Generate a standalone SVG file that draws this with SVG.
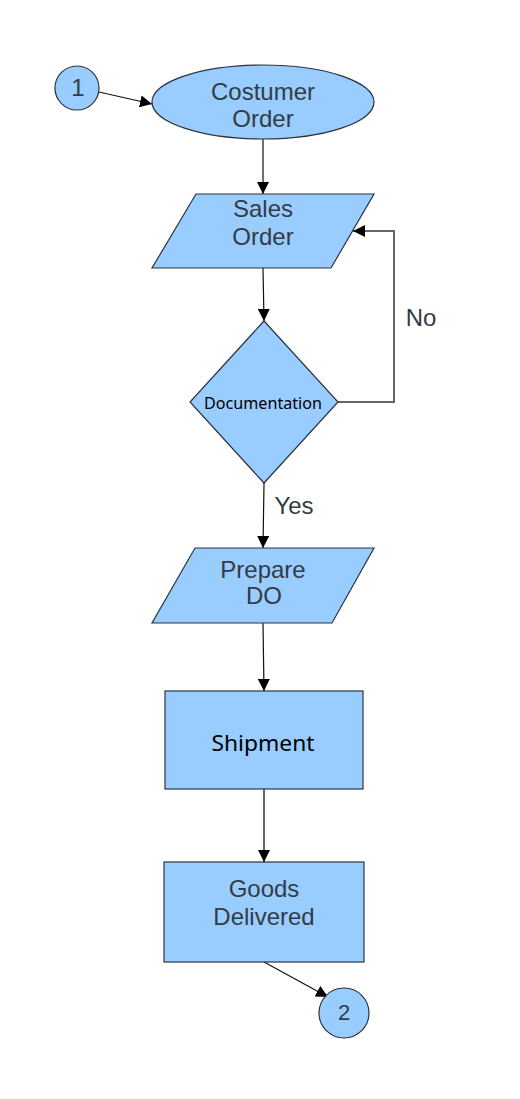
<svg xmlns="http://www.w3.org/2000/svg" width="520" height="1099" viewBox="0 0 520 1099">
<style>
.shape{fill:#99ccff;stroke:#2a3440;stroke-width:1.2}
.lbl{font-family:"Liberation Sans",Arial,sans-serif;font-size:24px;fill:#333b44;text-anchor:middle}
.cal{font-family:"Noto Sans","Open Sans",sans-serif;fill:#000;text-anchor:middle}
.con{fill:none;stroke:#111;stroke-width:1.2}
.gray{stroke:#666;stroke-width:2}
</style>
<defs>
<marker id="arr" markerUnits="userSpaceOnUse" markerWidth="12" markerHeight="12" refX="10" refY="5" orient="auto" viewBox="0 0 10 10">
<path d="M0,0 L10,5 L0,10 Z" fill="#000"/>
</marker>
</defs>
<rect width="520" height="1099" fill="#fff"/>
<g id="connectors">
<line class="con" x1="99" y1="92" x2="152" y2="104" marker-end="url(#arr)"/>
<line class="con" x1="263" y1="139" x2="263" y2="194" marker-end="url(#arr)"/>
<line class="con" x1="263" y1="268" x2="264" y2="321" marker-end="url(#arr)"/>
<polyline class="con gray" points="338,402 394,402 394,231 353,231" marker-end="url(#arr)"/>
<line class="con" x1="264" y1="483" x2="263" y2="548" marker-end="url(#arr)"/>
<line class="con" x1="263" y1="623" x2="264" y2="691" marker-end="url(#arr)"/>
<line class="con gray" x1="264" y1="789" x2="264" y2="862" marker-end="url(#arr)"/>
<line class="con" x1="264" y1="962" x2="328" y2="997" marker-end="url(#arr)"/>
</g>
<g id="start1">
<circle class="shape" cx="77" cy="88" r="22"/>
<text class="lbl" x="78" y="96">1</text>
</g>
<g id="customer-order">
<ellipse class="shape" cx="263" cy="102" rx="111" ry="37"/>
<text class="lbl" x="263" y="100">Costumer</text>
<text class="lbl" x="263" y="127">Order</text>
</g>
<g id="sales-order">
<polygon class="shape" points="196,194 374,194 331,268 152,268"/>
<text class="lbl" x="263" y="217">Sales</text>
<text class="lbl" x="263" y="245">Order</text>
</g>
<g id="documentation">
<polygon class="shape" points="264,321 338,402 264,483 190,402"/>
<text class="cal" x="263" y="409" style="font-size:16px" textLength="118" lengthAdjust="spacingAndGlyphs">Documentation</text>
</g>
<g id="labels">
<text class="lbl" x="421" y="326">No</text>
<text class="lbl" x="294" y="514">Yes</text>
</g>
<g id="prepare-do">
<polygon class="shape" points="195,548 374,548 332,623 152,623"/>
<text class="lbl" x="263" y="578">Prepare</text>
<text class="lbl" x="264" y="604">DO</text>
</g>
<g id="shipment">
<rect class="shape" x="165" y="691" width="198" height="98"/>
<text class="cal" x="263" y="751" style="font-size:22px" textLength="103" lengthAdjust="spacingAndGlyphs">Shipment</text>
</g>
<g id="goods-delivered">
<rect class="shape" x="164" y="862" width="200" height="100"/>
<text class="lbl" x="264" y="897">Goods</text>
<text class="lbl" x="264" y="925">Delivered</text>
</g>
<g id="end2">
<circle class="shape" cx="344" cy="1013" r="25"/>
<text class="lbl" x="344" y="1020" style="font-size:22px">2</text>
</g>
</svg>
